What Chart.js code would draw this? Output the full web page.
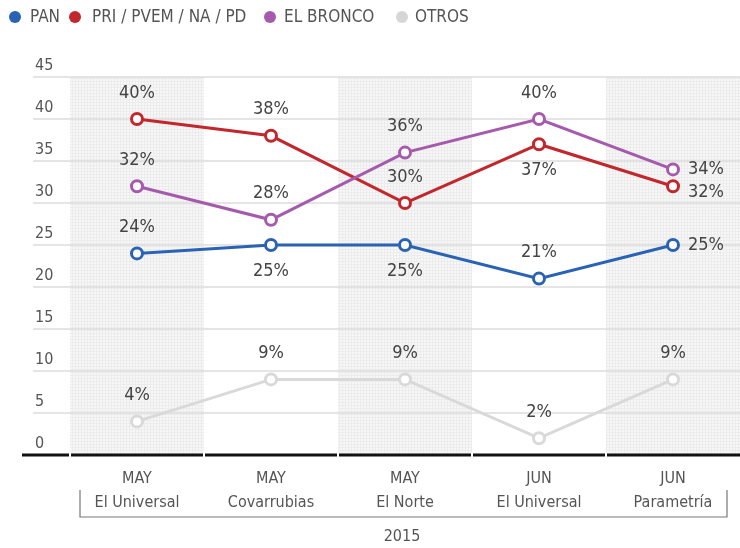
<!DOCTYPE html>
<html>
<head>
<meta charset="utf-8">
<script src="https://cdn.jsdelivr.net/npm/chart.js@4/dist/chart.umd.min.js"></script>
<style>
  html, body { margin: 0; padding: 0; background: #fff; }
  #wrap { width: 740px; height: 548px; position: relative; }
</style>
</head>
<body>
<div id="wrap"><canvas id="chart" width="740" height="548"></canvas></div>
<script>
// datos de la gráfica
var meses = ['MAY', 'MAY', 'MAY', 'JUN', 'JUN'];
var encuestas = ['El Universal', 'Covarrubias', 'El Norte', 'El Universal', 'Parametría'];
var anio = '2015';
var yTicks = [0, 5, 10, 15, 20, 25, 30, 35, 40, 45];

var pan = [24, 25, 25, 21, 25];
var pri = [40, 38, 30, 37, 32];
var bronco = [32, 28, 36, 40, 34];
var otros = [4, 9, 9, 2, 9];

// posición de cada etiqueta (arriba / abajo / derecha)
var posPan = ['top', 'bottom', 'bottom', 'top', 'right'];
var posPri = ['top', 'top', 'top', 'bottom', 'right'];
var posBronco = ['top', 'top', 'top', 'top', 'right'];
var posOtros = ['top', 'top', 'top', 'top', 'top'];

var FONT = '"Liberation Sans Narrow", "DejaVu Sans Condensed", "Roboto", sans-serif';

var legendItems = [
    { text: 'PAN', color: '#2b63b4', dot: 15, tx: 30 },
    { text: 'PRI / PVEM / NA / PD', color: '#c1272d', dot: 75, tx: 92 },
    { text: 'EL BRONCO', color: '#a65aad', dot: 270, tx: 284 },
    { text: 'OTROS', color: '#d6d6d6', dot: 402, tx: 415 }
];

// patrón de fondo punteado para las columnas sombreadas
function makePattern() {
    var c = document.createElement('canvas');
    c.width = 3; c.height = 3;
    var g = c.getContext('2d');
    g.fillStyle = '#f7f7f7';
    g.fillRect(0, 0, 3, 3);
    g.fillStyle = '#ececec';
    g.fillRect(0, 0, 3, 1);
    g.fillRect(0, 0, 1, 3);
    return g.createPattern(c, 'repeat');
}

function serie(label, data, color, pos) {
    return {
        label: label,
        data: data,
        borderColor: color,
        backgroundColor: '#fff',
        pointBackgroundColor: '#fff',
        pointBorderColor: color,
        pointRadius: 5.5,
        pointBorderWidth: 3,
        borderWidth: 3,
        tension: 0,
        labelPos: pos
    };
}

var fondoPlugin = {
    id: 'fondo',
    beforeDatasetsDraw: function (chart) {
        var ctx = chart.ctx;
        var x = chart.scales.x, y = chart.scales.y;
        var area = chart.chartArea;
        var w = area.width / meses.length;
        ctx.save();
        ctx.fillStyle = makePattern();
        for (var i = 0; i < meses.length; i += 2) {
            var cx = x.getPixelForValue(i);
            ctx.fillRect(cx - w / 2, y.getPixelForValue(45), w, y.getPixelForValue(0) - y.getPixelForValue(45));
        }
        // líneas de la cuadrícula y etiquetas del eje
        ctx.font = '16px ' + FONT;
        ctx.textAlign = 'left';
        ctx.textBaseline = 'bottom';
        yTicks.forEach(function (v) {
            var py = y.getPixelForValue(v);
            if (v > 0) {
                ctx.strokeStyle = '#dcdcdc';
                ctx.lineWidth = 1.5;
                ctx.beginPath();
                ctx.moveTo(33, py);
                ctx.lineTo(chart.width, py);
                ctx.stroke();
            }
            ctx.fillStyle = '#555';
            ctx.fillText(String(v), 35, py - 3);
        });
        // eje inferior
        var by = y.getPixelForValue(0);
        ctx.strokeStyle = '#111';
        ctx.lineWidth = 3;
        ctx.beginPath();
        ctx.moveTo(22, by);
        ctx.lineTo(chart.width, by);
        ctx.stroke();
        ctx.fillStyle = '#fff';
        for (var j = 0; j < meses.length; j++) {
            var gx = x.getPixelForValue(j) - w / 2;
            ctx.fillRect(gx - 1, by - 2, 2, 4);
        }
        ctx.restore();
    },
    afterDraw: function (chart) {
        var ctx = chart.ctx;
        var x = chart.scales.x, y = chart.scales.y;
        ctx.save();
        // etiquetas de porcentaje
        ctx.font = '18px ' + FONT;
        ctx.fillStyle = '#444';
        chart.data.datasets.forEach(function (ds, di) {
            var meta = chart.getDatasetMeta(di);
            meta.data.forEach(function (pt, i) {
                var txt = ds.data[i] + '%';
                var pos = ds.labelPos[i];
                if (pos === 'top') {
                    ctx.textAlign = 'center'; ctx.textBaseline = 'middle';
                    ctx.fillText(txt, pt.x, pt.y - 26);
                } else if (pos === 'bottom') {
                    ctx.textAlign = 'center'; ctx.textBaseline = 'middle';
                    ctx.fillText(txt, pt.x, pt.y + 26);
                } else {
                    ctx.textAlign = 'left'; ctx.textBaseline = 'middle';
                    var dy = ds.label === 'PRI / PVEM / NA / PD' ? 6 : 0;
                    ctx.fillText(txt, pt.x + 15, pt.y + dy);
                }
            });
        });
        // etiquetas del eje x
        ctx.font = '16px ' + FONT;
        ctx.fillStyle = '#555';
        ctx.textAlign = 'center';
        ctx.textBaseline = 'middle';
        for (var i = 0; i < meses.length; i++) {
            var px = x.getPixelForValue(i);
            ctx.fillText(meses[i], px, 479);
            ctx.fillText(encuestas[i], px, 503);
        }
        // corchete del año
        ctx.strokeStyle = '#777';
        ctx.lineWidth = 1.2;
        ctx.beginPath();
        ctx.moveTo(80, 490);
        ctx.lineTo(80, 517);
        ctx.lineTo(727, 517);
        ctx.lineTo(727, 490);
        ctx.stroke();
        ctx.fillText(anio, 402, 537);
        // leyenda
        ctx.font = '17px ' + FONT;
        ctx.textAlign = 'left';
        legendItems.forEach(function (it) {
            ctx.fillStyle = it.color;
            ctx.beginPath();
            ctx.arc(it.dot, 17, 6, 0, Math.PI * 2);
            ctx.fill();
            ctx.fillStyle = '#555';
            ctx.fillText(it.text, it.tx, 18);
        });
        ctx.restore();
    }
};

var ctx = document.getElementById('chart').getContext('2d');
var chart = new Chart(ctx, {
    type: 'line',
    data: {
        labels: encuestas,
        datasets: [
            serie('OTROS', otros, '#d9d9d9', posOtros),
            serie('PAN', pan, '#2b63b4', posPan),
            serie('EL BRONCO', bronco, '#a65aad', posBronco),
            serie('PRI / PVEM / NA / PD', pri, '#c1272d', posPri)
        ]
    },
    options: {
        responsive: false,
        animation: false,
        layout: { autoPadding: false, padding: { top: 77, bottom: 93, left: 70, right: 0 } },
        plugins: { legend: { display: false }, tooltip: { enabled: false } },
        scales: {
            x: { display: false, offset: true },
            y: { display: false, min: 0, max: 45 }
        }
    },
    plugins: [fondoPlugin]
});
</script>
</body>
</html>
